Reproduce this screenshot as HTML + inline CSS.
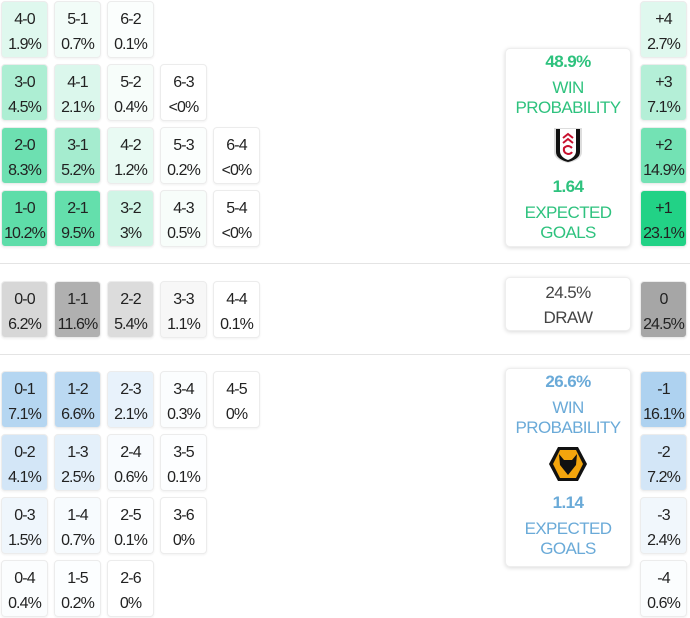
<!DOCTYPE html>
<html><head><meta charset="utf-8"><style>
body{margin:0;width:690px;height:618px;background:#fff;position:relative;overflow:hidden;font-family:"Liberation Sans",sans-serif;}
.c{position:absolute;width:47px;height:57px;box-sizing:border-box;border:1px solid #ececec;border-radius:4px;text-align:center;font-size:16px;line-height:25px;padding-top:5px;color:#222;letter-spacing:-0.9px;box-shadow:0 1px 2px rgba(0,0,0,0.06);}
.card{position:absolute;left:505px;width:126px;box-sizing:border-box;border:1px solid #eee;border-radius:5px;box-shadow:0 1px 4px rgba(0,0,0,0.15);text-align:center;font-size:17px;line-height:20px;letter-spacing:-0.6px;background:#fff;}
.hr{position:absolute;left:0;width:690px;height:1px;background:#e4e4e4;}
b{font-weight:bold;}
</style></head><body>
<div class="c" style="left:1px;top:1px;background:rgba(40,210,140,.15)">4-0<br>1.9%</div>
<div class="c" style="left:54px;top:1px;background:rgba(40,210,140,.06)">5-1<br>0.7%</div>
<div class="c" style="left:107px;top:1px;background:rgba(40,210,140,.02)">6-2<br>0.1%</div>

<div class="c" style="left:1px;top:64px;background:rgba(40,210,140,.38)">3-0<br>4.5%</div>
<div class="c" style="left:54px;top:64px;background:rgba(40,210,140,.17)">4-1<br>2.1%</div>
<div class="c" style="left:107px;top:64px;background:rgba(40,210,140,.04)">5-2<br>0.4%</div>
<div class="c" style="left:160px;top:64px;background:#fff">6-3<br>&lt;0%</div>

<div class="c" style="left:1px;top:127px;background:rgba(40,210,140,.68)">2-0<br>8.3%</div>
<div class="c" style="left:54px;top:127px;background:rgba(40,210,140,.42)">3-1<br>5.2%</div>
<div class="c" style="left:107px;top:127px;background:rgba(40,210,140,.1)">4-2<br>1.2%</div>
<div class="c" style="left:160px;top:127px;background:rgba(40,210,140,.02)">5-3<br>0.2%</div>
<div class="c" style="left:213px;top:127px;background:#fff">6-4<br>&lt;0%</div>

<div class="c" style="left:1px;top:190px;background:rgba(40,210,140,.75)">1-0<br>10.2%</div>
<div class="c" style="left:54px;top:190px;background:rgba(40,210,140,.72)">2-1<br>9.5%</div>
<div class="c" style="left:107px;top:190px;background:rgba(40,210,140,.22)">3-2<br>3%</div>
<div class="c" style="left:160px;top:190px;background:rgba(40,210,140,.04)">4-3<br>0.5%</div>
<div class="c" style="left:213px;top:190px;background:#fff">5-4<br>&lt;0%</div>

<div class="hr" style="top:263px"></div>
<div class="c" style="left:1px;top:281px;background:rgba(150,150,150,.38)">0-0<br>6.2%</div>
<div class="c" style="left:54px;top:281px;background:rgba(150,150,150,.75)">1-1<br>11.6%</div>
<div class="c" style="left:107px;top:281px;background:rgba(150,150,150,.33)">2-2<br>5.4%</div>
<div class="c" style="left:160px;top:281px;background:rgba(150,150,150,.08)">3-3<br>1.1%</div>
<div class="c" style="left:213px;top:281px;background:#fff">4-4<br>0.1%</div>
<div class="hr" style="top:354px"></div>

<div class="c" style="left:1px;top:371px;background:rgba(120,180,230,.55)">0-1<br>7.1%</div>
<div class="c" style="left:54px;top:371px;background:rgba(120,180,230,.5)">1-2<br>6.6%</div>
<div class="c" style="left:107px;top:371px;background:rgba(120,180,230,.17)">2-3<br>2.1%</div>
<div class="c" style="left:160px;top:371px;background:rgba(120,180,230,.03)">3-4<br>0.3%</div>
<div class="c" style="left:213px;top:371px;background:#fff">4-5<br>0%</div>

<div class="c" style="left:1px;top:434px;background:rgba(120,180,230,.33)">0-2<br>4.1%</div>
<div class="c" style="left:54px;top:434px;background:rgba(120,180,230,.2)">1-3<br>2.5%</div>
<div class="c" style="left:107px;top:434px;background:rgba(120,180,230,.05)">2-4<br>0.6%</div>
<div class="c" style="left:160px;top:434px;background:rgba(120,180,230,.01)">3-5<br>0.1%</div>

<div class="c" style="left:1px;top:497px;background:rgba(120,180,230,.12)">0-3<br>1.5%</div>
<div class="c" style="left:54px;top:497px;background:rgba(120,180,230,.06)">1-4<br>0.7%</div>
<div class="c" style="left:107px;top:497px;background:rgba(120,180,230,.01)">2-5<br>0.1%</div>
<div class="c" style="left:160px;top:497px;background:#fff">3-6<br>0%</div>

<div class="c" style="left:1px;top:560px;background:rgba(120,180,230,.03)">0-4<br>0.4%</div>
<div class="c" style="left:54px;top:560px;background:rgba(120,180,230,.02)">1-5<br>0.2%</div>
<div class="c" style="left:107px;top:560px;background:#fff">2-6<br>0%</div>

<div class="c" style="left:640px;top:1px;background:rgba(40,210,140,.15)">+4<br>2.7%</div>
<div class="c" style="left:640px;top:64px;background:rgba(40,210,140,.35)">+3<br>7.1%</div>
<div class="c" style="left:640px;top:127px;background:rgba(40,210,140,.65)">+2<br>14.9%</div>
<div class="c" style="left:640px;top:190px;background:#22d286">+1<br>23.1%</div>
<div class="c" style="left:640px;top:281px;background:#a6a6a6">0<br>24.5%</div>
<div class="c" style="left:640px;top:371px;background:rgba(120,180,230,.6)">-1<br>16.1%</div>
<div class="c" style="left:640px;top:434px;background:rgba(120,180,230,.33)">-2<br>7.2%</div>
<div class="c" style="left:640px;top:497px;background:rgba(120,180,230,.1)">-3<br>2.4%</div>
<div class="c" style="left:640px;top:560px;background:rgba(120,180,230,.03)">-4<br>0.6%</div>

<div class="card" style="top:48px;height:199px;color:#2ec27e;padding-top:3px">
<b>48.9%</b><br><div style="margin-top:6px">WIN<br>PROBABILITY</div>
<svg width="30" height="38" viewBox="0 0 30 38" style="margin-top:8px"><path d="M1 2H29V26Q29 34 15 37Q1 34 1 26Z" fill="#ddd"/><path d="M3 3H27V26Q27 33 15 36Q3 33 3 26Z" fill="#111"/><path d="M7 3H23V25Q23 31 15 34Q7 31 7 25Z" fill="#fff"/><path d="M10 12L15 8L20 12M10 17L15 13L20 17M19 22Q15 18 11 22Q10 27 15 28Q18 28 19 26" stroke="#c8102e" stroke-width="2" fill="none"/></svg>
<div style="margin-top:8px"><b>1.64</b></div><div style="margin-top:6px">EXPECTED<br>GOALS</div></div>

<div class="card" style="top:277px;height:54px;color:#444;padding-top:5px"><span>24.5%</span><div style="margin-top:5px">DRAW</div></div>

<div class="card" style="top:368px;height:199px;color:#6aaad8;padding-top:3px">
<b>26.6%</b><br><div style="margin-top:6px">WIN<br>PROBABILITY</div>
<svg width="40" height="36" viewBox="0 0 40 36" style="margin-top:8px"><polygon points="10,1 30,1 39,18 30,35 10,35 1,18" fill="#111"/><polygon points="12,4 28,4 35,18 28,32 12,32 5,18" fill="#f3a50d"/><path d="M11 8L16 14H24L29 8L28 19L20 29L12 19Z" fill="#111"/></svg>
<div style="margin-top:6px"><b>1.14</b></div><div style="margin-top:6px">EXPECTED<br>GOALS</div></div>
</body></html>
